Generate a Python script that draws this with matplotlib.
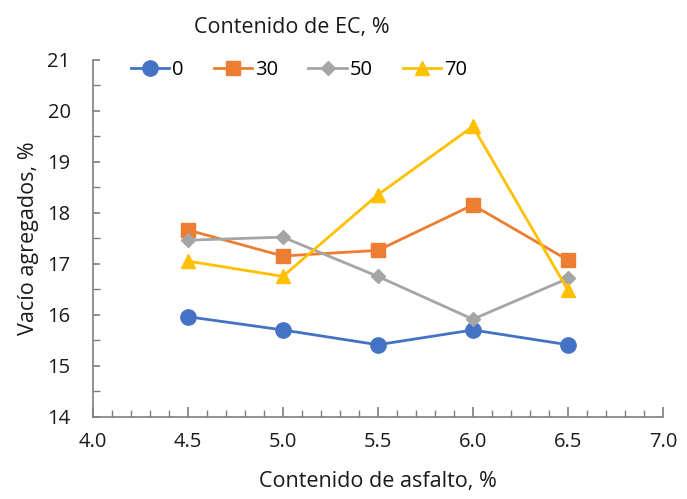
import matplotlib
matplotlib.use("Agg")
import matplotlib.pyplot as plt
from matplotlib.ticker import MultipleLocator

# Asphalt content (%) and void values per EC content series
asfalto = [4.5, 5.0, 5.5, 6.0, 6.5]
ec_labels = ["0", "30", "50", "70"]
vacio_0 = [15.96, 15.70, 15.41, 15.70, 15.41]
vacio_30 = [17.66, 17.15, 17.26, 18.15, 17.07]
vacio_50 = [17.46, 17.52, 16.75, 15.91, 16.71]
vacio_70 = [17.05, 16.75, 18.35, 19.69, 16.48]

x_ticks = [4.0, 4.5, 5.0, 5.5, 6.0, 6.5, 7.0]
y_ticks = [14, 15, 16, 17, 18, 19, 20, 21]

colors = ["#4472C4", "#ED7D31", "#A5A5A5", "#FFC000"]
markers = ["o", "s", "D", "^"]
sizes = [11, 10, 7, 10]

plt.rcParams['font.family'] = ['Open Sans', 'DejaVu Sans']

fig = plt.figure(figsize=(6.87, 4.99), dpi=100)
ax = fig.add_axes([0.135, 0.165, 0.83, 0.7155])

series = [vacio_0, vacio_30, vacio_50, vacio_70]
for vals, lab, c, m, s in zip(series, ec_labels, colors, markers, sizes):
    ax.plot(asfalto, vals, color=c, marker=m, markersize=s, linewidth=2,
            label=lab, markeredgecolor=c)

ax.set_xlim(4.0, 7.0)
ax.set_ylim(14, 21)
ax.set_xticks(x_ticks)
ax.set_xticklabels([f"{v:.1f}" for v in x_ticks])
ax.set_yticks(y_ticks)
ax.xaxis.set_minor_locator(MultipleLocator(0.1))
ax.yaxis.set_minor_locator(MultipleLocator(0.5))

axis_color = "#7F7F7F"
text_color = "#1A1A1A"
for side in ["top", "right"]:
    ax.spines[side].set_visible(False)
for side in ["left", "bottom"]:
    ax.spines[side].set_color(axis_color)
    ax.spines[side].set_linewidth(1.2)

ax.tick_params(axis="x", which="major", direction="in", length=7, width=1.2,
               color=axis_color, labelsize=14.5, pad=11, labelcolor=text_color)
ax.tick_params(axis="x", which="minor", direction="in", length=5, width=1.0,
               color=axis_color)
ax.tick_params(axis="y", which="major", direction="in", length=5, width=1.2,
               color=axis_color, labelsize=14.5, pad=16, labelcolor=text_color)
ax.tick_params(axis="y", which="minor", direction="in", length=5, width=1.0,
               color=axis_color)

ax.set_xlabel("Contenido de asfalto, %", fontsize=15.5, labelpad=14, color=text_color)
ax.set_ylabel("Vacío agregados, %", fontsize=15.5, labelpad=6, color=text_color)

leg = ax.legend(ncol=4, loc="upper left", bbox_to_anchor=(0.035, 1.05),
                frameon=False, fontsize=14.5, handlelength=1.9,
                handletextpad=0.15, columnspacing=1.5)
fig.text(0.425, 0.945, "Contenido de EC, %", ha="center", va="center",
         fontsize=15.5, color=text_color)

fig.savefig("out.png", dpi=100)
